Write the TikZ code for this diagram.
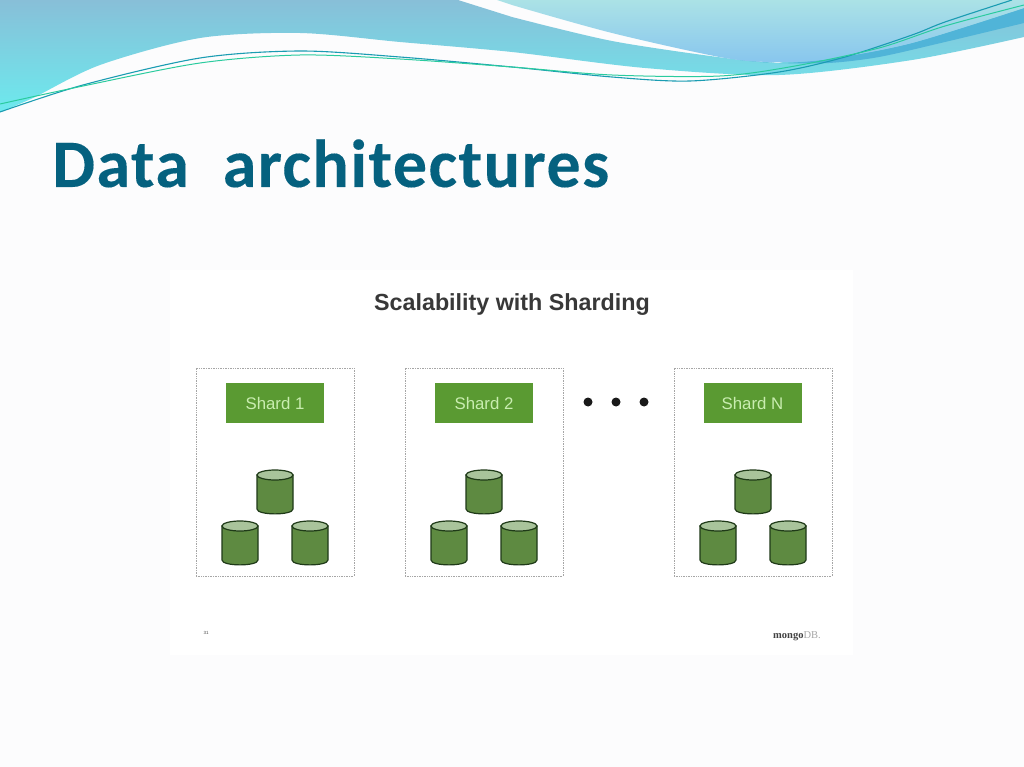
\documentclass[tikz,border=0pt]{standalone}
\usepackage{fontspec}
\setmainfont{Liberation Sans}
\newfontfamily\titlefont[LetterSpace=2.2,BoldFeatures={LetterSpace=2.2,FakeBold=0.15}]{Carlito}
\newfontfamily\logofont{Liberation Serif}
\definecolor{bgc}{HTML}{FCFCFD}
\definecolor{titlec}{HTML}{05617F}
\definecolor{greenc}{HTML}{5A9A32}
\definecolor{shardtxt}{HTML}{C9EDB0}
\definecolor{cylbody}{HTML}{5E8A41}
\definecolor{cyltop}{HTML}{A9C49B}
\definecolor{cylline}{HTML}{1F3A18}
\definecolor{lineteal}{HTML}{1A9CB2}
\definecolor{linegreen}{HTML}{2ACB9E}
\definecolor{bandtop}{HTML}{88BFD8}
\definecolor{bandbot}{HTML}{6CEAEE}
\definecolor{lighttop}{HTML}{ABE2E6}
\definecolor{lightbot}{HTML}{88C6EE}
\definecolor{stripe}{HTML}{50B4D8}
\tikzset{
  shardbox/.style={draw=black!35,densely dotted,line width=0.7pt,fill=white,minimum width=158pt,minimum height=208pt,inner sep=0pt},
  shardlabel/.style={fill=greenc,text=shardtxt,minimum width=98pt,minimum height=40pt,inner sep=0pt,font=\fontsize{16.8}{18}\selectfont},
  dotn/.style={circle,fill=black!90,minimum size=9pt,inner sep=0pt},
  dbcyl/.pic={
    \path[draw=cylline,fill=cylbody,line width=1.2pt]
      (-18,-17) -- (-18,17) .. controls (-18,23.5) and (18,23.5) .. (18,17) -- (18,-17) -- cycle;
    \path[draw=cylline,fill=cyltop,line width=1.2pt] (0,-17) ellipse [x radius=18,y radius=5];
  }
}
\begin{document}
\begin{tikzpicture}[x=1pt,y=-1pt]
\useasboundingbox (0,0) rectangle (1024,767);
\fill[bgc] (0,0) rectangle (1024,767);
% banner: long band
\shade[top color=bandtop,bottom color=bandbot] (0,0) -- (458,0) -- (512,17)
 -- plot[smooth] coordinates {(512,17) (612,41) (725,58) (779,63)} -- (1024,8) -- (1024,37)
 -- plot[smooth] coordinates {(1024,37) (912,60) (779,75) (645,68) (512,52) (400,42) (300,33) (200,38) (100,65) (33,98) (0,112)} -- cycle;
% dark stripe
\fill[stripe] plot[smooth] coordinates {(740,60) (779,63) (829,59) (912,43) (1024,8)} -- (1024,23)
 -- plot[smooth] coordinates {(1024,23) (945,42) (879,57) (829,63) (779,63) (740,60)} -- cycle;
% light top shape
\shade[top color=lighttop,bottom color=lightbot] (497,0) -- (512,5)
 -- plot[smooth] coordinates {(512,5) (612,33) (725,58) (779,62) (829,59) (912,43) (1024,8)} -- (1024,0) -- cycle;
% thin lines
\draw[lineteal,line width=1.1pt] plot[smooth] coordinates {(0,112) (83,85) (200,58) (300,51) (400,57) (512,67) (612,77) (690,81) (779,72) (845,57) (912,35) (945,22) (1012,0)};
\draw[linegreen,line width=1pt] plot[smooth] coordinates {(0,104) (83,86) (200,63) (300,55) (400,59) (512,67) (612,75) (720,76) (795,66) (879,48) (945,26) (1024,5)};
% title
\node[anchor=base west,inner sep=0pt,text=titlec,font=\titlefont\bfseries\fontsize{68}{80}\selectfont] (title) at (52,187) {Data\ \ architectures};
% panel
\fill[white] (170,270) rectangle (853,655);
\node[anchor=base,font=\fontsize{23.3}{26}\selectfont,text=black!78,inner sep=0pt] (head) at (512,310) {\textbf{Scalability with Sharding}};
% shard 1
\node[shardbox] (box1) at (275,472) {};
\node[shardlabel] (s1) at (275,403) {Shard 1};
\pic (c1a) at (275,492) {dbcyl};
\pic (c1b) at (240,543) {dbcyl};
\pic (c1c) at (310,543) {dbcyl};
% shard 2
\node[shardbox] (box2) at (484,472) {};
\node[shardlabel] (s2) at (484,403) {Shard 2};
\pic (c2a) at (484,492) {dbcyl};
\pic (c2b) at (449,543) {dbcyl};
\pic (c2c) at (519,543) {dbcyl};
% dots
\node[dotn] (d1) at (588,402) {};
\node[dotn] (d2) at (616,402) {};
\node[dotn] (d3) at (644,402) {};
% shard N
\node[shardbox] (box3) at (753,472) {};
\node[shardlabel] (s3) at (752.5,403) {Shard N};
\pic (c3a) at (753,492) {dbcyl};
\pic (c3b) at (718,543) {dbcyl};
\pic (c3c) at (788,543) {dbcyl};
% footer
\node[font=\fontsize{4.5}{5}\selectfont,text=black!70,inner sep=0pt] (pg) at (206,633) {31};
\node[anchor=base west,inner sep=0pt,font=\logofont\fontsize{10.5}{12}\selectfont] (logo) at (773,638) {\textcolor{black!75}{\textbf{mongo}}\textcolor{black!35}{DB}\textcolor{black!35}{.}};
\end{tikzpicture}
\end{document}
